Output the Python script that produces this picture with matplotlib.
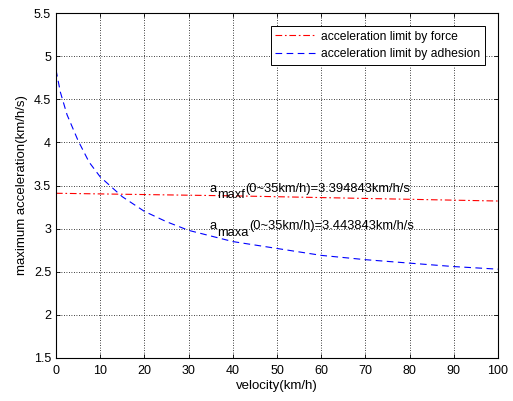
import matplotlib
matplotlib.use('Agg')
import matplotlib.pyplot as plt

plt.rcParams['font.family'] = ['Liberation Sans', 'DejaVu Sans']

# values
v_force = [0, 20, 40, 60, 80, 100]
a_force = [3.41, 3.395, 3.38, 3.36, 3.34, 3.32]

v_adh = [0, 1, 2.5, 5, 7.5, 10, 15, 20, 25, 30, 40, 50, 60, 70, 80, 90, 100]
a_adh = [4.84, 4.58, 4.32, 4.02, 3.77, 3.60, 3.37, 3.20, 3.08, 2.98, 2.85,
         2.77, 2.69, 2.64, 2.60, 2.56, 2.53]

xticks = list(range(0, 101, 10))
yticks = [1.5, 2, 2.5, 3, 3.5, 4, 4.5, 5, 5.5]
ylabels = ['1.5', '2', '2.5', '3', '3.5', '4', '4.5', '5', '5.5']

notes = [('maxf', '(0~35km/h)=3.394843km/h/s', 3.45),
         ('maxa', '(0~35km/h)=3.443843km/h/s', 3.01)]

fig = plt.figure(figsize=(5.13, 4.01), dpi=100)
ax = fig.add_axes([56/513, 43/401, 442/513, 345/401])

ax.plot(v_force, a_force, color='r', lw=0.8, linestyle=(0, (6, 2.5, 1.5, 2.5)),
        label='acceleration limit by force')
ax.plot(v_adh, a_adh, color='b', lw=0.8, linestyle=(0, (6, 4)),
        label='acceleration limit by adhesion')

ax.set_xlim(0, 100)
ax.set_ylim(1.5, 5.5)
ax.set_xticks(xticks)
ax.set_yticks(yticks)
ax.set_yticklabels(ylabels)
ax.tick_params(direction='in', labelsize=9, length=3, width=0.6, top=True, right=True)
ax.tick_params(axis='x', pad=5)
ax.grid(True, color='k', linestyle=(0, (1, 2)), linewidth=0.6)
for s in ax.spines.values():
    s.set_linewidth(0.8)

ax.set_xlabel('velocity(km/h)', fontsize=9.5, labelpad=2)
ax.set_ylabel('maximum acceleration(km/h/s)', fontsize=9.5, labelpad=4)

# a + lowered subscript (same size) + rest of text
fs = 9.3
for sub, rest, yv in notes:
    t1 = ax.text(34.8, yv - 0.02, 'a', fontsize=fs, va='baseline')
    t2 = ax.annotate(sub, xy=(1, 0), xycoords=t1, xytext=(0.5, -4.5),
                     textcoords='offset points', fontsize=fs, va='bottom')
    ax.annotate(rest, xy=(1, 0), xycoords=t2, xytext=(0, 4.5),
                textcoords='offset points', fontsize=fs, va='bottom')

leg = ax.legend(loc='upper right', fontsize=8.7, fancybox=False, edgecolor='k',
                framealpha=1, borderaxespad=1.05, handlelength=3.3,
                labelspacing=0.45, borderpad=0.4, handletextpad=0.5)
leg.get_frame().set_linewidth(0.7)

fig.savefig('out.png', dpi=100)
